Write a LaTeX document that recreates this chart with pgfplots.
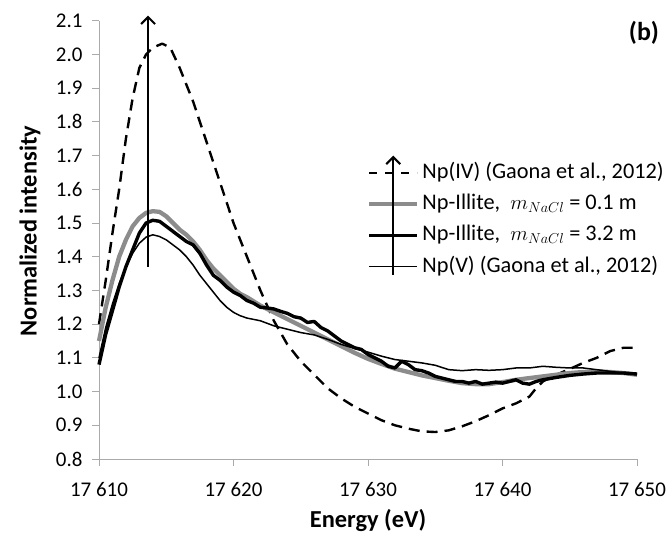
\documentclass[border=0pt]{standalone}
\usepackage{fontspec}
\setmainfont{Carlito}
\usepackage{pgfplots}
\pgfplotsset{compat=1.18}
\usetikzlibrary{arrows.meta}
\definecolor{axgray}{RGB}{170,170,170}
\definecolor{lgray}{RGB}{140,140,140}

\begin{document}
\begin{tikzpicture}
\begin{axis}[
  scale only axis, width=538bp, height=438.3bp,
  xmin=17610, xmax=17650, ymin=0.8, ymax=2.1,
  axis x line*=bottom, axis y line*=left,
  axis line style={axgray, line width=0.9bp},
  scaled x ticks=false,
  xtick={17610,17620,17630,17640,17650},
  xticklabels={17 610,17 620,17 630,17 640,17 650},
  ytick={0.8,0.9,1.0,1.1,1.2,1.3,1.4,1.5,1.6,1.7,1.8,1.9,2.0,2.1},
  tick align=outside, major tick length=7bp,
  tick style={axgray, line width=0.9bp},
  ticklabel style={font=\fontsize{21}{25}\selectfont},
  xticklabel style={yshift=-13bp},
  yticklabel style={xshift=-6bp, /pgf/number format/.cd, fixed, fixed zerofill, precision=1, assume math mode=true},
  xlabel={Energy (eV)},
  ylabel={Normalized intensity},
  label style={font=\fontsize{24.5}{29}\selectfont\bfseries},
  xlabel style={at={(axis description cs:0.5,-0.1414)}, anchor=center},
  ylabel style={at={(axis description cs:-0.1283,0.52)}, anchor=center},
  clip=false,
  legend cell align=left,
  legend style={draw=none, fill=none, at={(axis description cs:0.498,0.6776)}, anchor=north west,
    font=\fontsize{22.4}{26}\selectfont, row sep=10.3bp, column sep=3bp, inner sep=0pt,
    nodes={inner sep=0pt, text height=16bp, text depth=5bp}},
  every axis plot/.append style={line join=round, line cap=butt},
]
\addplot[black, line width=2.4bp, dash pattern=on 11bp off 7bp,
  legend image code/.code={\draw[black, line width=2.4bp, dash pattern=on 8bp off 8bp] (0bp,0bp) -- (48bp,0bp);
    \draw[overlay, black, solid, line width=2.2bp, -{Straight Barb[length=7bp,width=14bp,line width=2bp]}] (24bp,-20bp) -- (24bp,17bp);}]
coordinates {
(17610.0,1.20) (17610.5,1.33) (17611.0,1.47) (17611.5,1.60) (17612.0,1.75) (17612.5,1.87)
(17613.0,1.96) (17613.5,2.00) (17614.0,2.02) (17614.7,2.032) (17615.3,2.02) (17616.0,1.96)
(17617.0,1.86) (17618.0,1.74) (17619.0,1.62) (17620.0,1.50) (17621.0,1.40) (17622.0,1.30)
(17623.0,1.21) (17624.0,1.14) (17625.0,1.09) (17626.0,1.05) (17627.0,1.01) (17628.0,0.98)
(17629.0,0.955) (17630.0,0.935) (17631.0,0.915) (17632.0,0.90) (17633.0,0.89) (17634.0,0.882)
(17635.0,0.88) (17636.0,0.885) (17637.0,0.897) (17638.0,0.912) (17639.0,0.93) (17640.0,0.95)
(17641.0,0.965) (17642.0,0.985) (17642.5,1.01) (17643.0,1.03) (17644.0,1.05) (17645.0,1.067)
(17646.0,1.085) (17647.0,1.10) (17648.0,1.12) (17649.0,1.13) (17650.0,1.13)
};
\addlegendentry{Np(IV) (Gaona et al., 2012)}

\addplot[lgray, line width=4.3bp,
  legend image code/.code={\draw[lgray, line width=4.3bp] (0bp,0bp) -- (48bp,0bp);
    \draw[overlay, black, solid, line width=2.2bp] (24bp,-20bp) -- (24bp,20bp);}]
coordinates {
(17610.0,1.15) (17610.5,1.25) (17611.0,1.33) (17611.5,1.40) (17612.0,1.45) (17612.5,1.49)
(17613.0,1.515) (17613.5,1.53) (17614.0,1.535) (17614.5,1.533) (17615.0,1.52) (17615.5,1.50)
(17616.0,1.48) (17616.5,1.465) (17617.0,1.445) (17617.5,1.42) (17618.0,1.39) (17618.5,1.365)
(17619.0,1.345) (17619.5,1.325) (17620.0,1.305) (17620.5,1.29) (17621.0,1.28) (17622.0,1.255)
(17623.0,1.235) (17624.0,1.215) (17625.0,1.195) (17626.0,1.175) (17627.0,1.155) (17628.0,1.135)
(17629.0,1.115) (17630.0,1.097) (17631.0,1.082) (17632.0,1.068) (17633.0,1.058) (17634.0,1.048)
(17635.0,1.04) (17636.0,1.032) (17637.0,1.025) (17638.0,1.022) (17639.0,1.022) (17640.0,1.028)
(17641.0,1.035) (17642.0,1.04) (17643.0,1.045) (17644.0,1.05) (17645.0,1.055) (17646.0,1.058)
(17647.0,1.06) (17648.0,1.058) (17649.0,1.055) (17650.0,1.05)
};
\addlegendentry{Np-Illite,\ \ $m_{NaCl}$ = 0.1 m}

\addplot[black, line width=3.4bp,
  legend image code/.code={\draw[black, line width=3.4bp] (0bp,0bp) -- (48bp,0bp);
    \draw[overlay, black, solid, line width=2.2bp] (24bp,-20bp) -- (24bp,20bp);}]
coordinates {
(17610.0,1.08) (17610.5,1.17) (17611.0,1.24) (17611.5,1.31) (17612.0,1.37) (17612.5,1.42)
(17613.0,1.47) (17613.5,1.50) (17614.0,1.508) (17614.5,1.505) (17615.0,1.49) (17615.5,1.475)
(17616.0,1.46) (17616.5,1.445) (17617.0,1.435) (17617.5,1.41) (17618.0,1.375) (17618.5,1.345)
(17619.0,1.33) (17619.5,1.31) (17620.0,1.295) (17620.5,1.285) (17621.0,1.27) (17621.5,1.262)
(17622.0,1.25) (17622.5,1.248) (17623.0,1.245) (17623.5,1.238) (17624.0,1.232) (17624.5,1.222)
(17625.0,1.218) (17625.5,1.205) (17626.0,1.208) (17626.5,1.19) (17627.0,1.18) (17627.5,1.165)
(17628.0,1.15) (17628.5,1.14) (17629.0,1.13) (17629.5,1.125) (17630.0,1.11) (17630.5,1.10)
(17631.0,1.09) (17631.5,1.075) (17632.0,1.07) (17632.5,1.09) (17633.0,1.08) (17633.5,1.065)
(17634.0,1.062) (17634.5,1.055) (17635.0,1.045) (17635.5,1.04) (17636.0,1.035) (17636.5,1.03)
(17637.0,1.03) (17637.5,1.025) (17638.0,1.03) (17638.5,1.022) (17639.0,1.025) (17639.5,1.028)
(17640.0,1.025) (17640.5,1.03) (17641.0,1.035) (17641.5,1.025) (17642.0,1.022) (17642.5,1.03)
(17643.0,1.035) (17644.0,1.042) (17645.0,1.048) (17646.0,1.052) (17647.0,1.055) (17648.0,1.055)
(17649.0,1.055) (17650.0,1.052)
};
\addlegendentry{Np-Illite,\ \ $m_{NaCl}$ = 3.2 m}

\addplot[black, line width=1.5bp,
  legend image code/.code={\draw[black, line width=1.5bp] (0bp,0bp) -- (48bp,0bp);
    \draw[overlay, black, solid, line width=2.2bp] (24bp,-8bp) -- (24bp,20bp);}]
coordinates {
(17610.0,1.10) (17610.5,1.19) (17611.0,1.26) (17611.5,1.32) (17612.0,1.37) (17612.5,1.41)
(17613.0,1.44) (17613.5,1.458) (17614.0,1.465) (17614.5,1.46) (17615.0,1.45) (17615.5,1.435)
(17616.0,1.42) (17616.5,1.40) (17617.0,1.375) (17617.5,1.345) (17618.0,1.32) (17618.5,1.295)
(17619.0,1.27) (17619.5,1.25) (17620.0,1.235) (17620.5,1.225) (17621.0,1.218) (17622.0,1.21)
(17623.0,1.195) (17624.0,1.185) (17625.0,1.175) (17626.0,1.168) (17627.0,1.155) (17628.0,1.14)
(17629.0,1.128) (17630.0,1.117) (17631.0,1.105) (17632.0,1.095) (17633.0,1.09) (17634.0,1.085)
(17635.0,1.078) (17636.0,1.065) (17637.0,1.062) (17638.0,1.065) (17639.0,1.063) (17640.0,1.065)
(17641.0,1.07) (17642.0,1.07) (17643.0,1.075) (17644.0,1.072) (17645.0,1.07) (17646.0,1.07)
(17647.0,1.065) (17648.0,1.06) (17649.0,1.055) (17650.0,1.05)
};
\addlegendentry{Np(V) (Gaona et al., 2012)}

\addplot[black, line width=2.3bp, forget plot, -{Straight Barb[length=7bp,width=14bp,line width=2bp]}]
coordinates {(17613.65,1.37) (17613.65,2.115)};

\node[font=\fontsize{26}{30}\selectfont\bfseries] at (axis description cs:1.013,0.972) {(b)};
\end{axis}
\pgfresetboundingbox
\useasboundingbox (-99bp,-80bp) rectangle (568bp,459bp);
\end{tikzpicture}
\end{document}
